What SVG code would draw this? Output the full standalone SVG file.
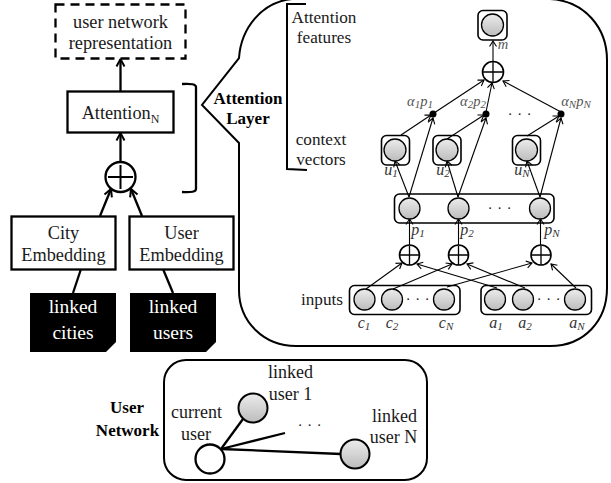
<svg xmlns="http://www.w3.org/2000/svg" width="611" height="483" viewBox="0 0 611 483">
<style>
text{font-family:"Liberation Serif","Times New Roman",serif;fill:#1a1a1a;text-anchor:middle}
.t{font-size:18.300px}
.b{font-size:17px;font-weight:bold;fill:#000}
.s{font-size:17.200px}
.n{font-size:18px}
.d{font-size:15px;letter-spacing:1px}
.i{font-size:16px;font-style:italic;fill:#333}
.j{font-size:14.500px;font-style:italic;fill:#555}
.u{font-size:11px}
.w{fill:#fff;font-size:19.500px}
.box{fill:#fff;stroke:#000;stroke-width:2.300}
.thin{fill:none;stroke:#000;stroke-width:2}
.nd{fill:url(#g);stroke:#000;stroke-width:1.300}
.pl{fill:#fff;stroke:#000;stroke-width:1.600}
.cross{stroke:#000;stroke-width:1.300;fill:none}
.thick{stroke:#000;stroke-width:2.300;fill:none}
.a{stroke:#000;stroke-width:1.100;fill:none;marker-end:url(#ah)}
.A{stroke:#000;stroke-width:2.300;fill:none;marker-end:url(#AH)}
</style>
<defs>
<linearGradient id="g" x1="0" y1="0" x2="0" y2="1"><stop offset="0" stop-color="#ececec"/><stop offset="1" stop-color="#bcbcbc"/></linearGradient>
<marker id="ah" markerUnits="userSpaceOnUse" markerWidth="10" markerHeight="10" refX="8" refY="5" orient="auto"><path d="M2.500,1.500 L8,5 L2.500,8.500" fill="none" stroke="#000" stroke-width="1.100"/></marker>
<marker id="AH" markerUnits="userSpaceOnUse" markerWidth="14" markerHeight="14" refX="11" refY="7" orient="auto"><path d="M3.500,3 L11,7 L3.500,11" fill="none" stroke="#000" stroke-width="2"/></marker>
</defs>
<rect width="611" height="483" fill="#fff"/>

<g id="attention-layer-callout">
<path d="M239,58 C241,28 262,2 292,-1 L550,-1 C585,1 607,28 607,60 L607,288 C607,320 585,346 550,346 L296,346 C264,346 239,322 239,290 L239,143 L202,105 L239,58 Z" fill="#fff" stroke="#000" stroke-width="2"/>
<path d="M306,4 L287,4 L287,169 L307,170" class="thin"/>
<text class="b" x="248" y="104">Attention</text>
<text class="b" x="248" y="124">Layer</text>
<text class="s" x="324" y="23">Attention</text>
<text class="s" x="324" y="43">features</text>
<text class="s" x="321" y="145">context</text>
<text class="s" x="321" y="165">vectors</text>
<text class="s" x="322" y="305">inputs</text>
</g>

<g id="connectors">
<path class="A" d="M120.500,91 L120.500,59"/>
<path class="A" d="M120.500,162 L120.500,133"/>
<path class="A" d="M100,216 L111,189"/>
<path class="A" d="M142,216 L131,189"/>
<path class="thick" d="M81,269 L73,293"/>
<path class="thick" d="M163,269 L173,293"/>
<path class="a" d="M493,61 L493,41"/>
<path class="a" d="M434,113 L484,80"/>
<path class="a" d="M486,112 L492,83"/>
<path class="a" d="M561,112 L503,81"/>
<path class="a" d="M401,135 L431,115"/>
<path class="a" d="M447,139 L484,115"/>
<path class="a" d="M527,136 L559,116"/>
<path class="a" d="M409,197 L395,161"/>
<path class="a" d="M409,197 L433,118"/>
<path class="a" d="M458,197 L447,161"/>
<path class="a" d="M458,197 L486,118"/>
<path class="a" d="M540,197 L527,161"/>
<path class="a" d="M540,197 L561,118"/>
<path class="a" d="M409.500,245 L409.500,219"/>
<path class="a" d="M458.500,245 L458.500,219"/>
<path class="a" d="M540.500,245 L540.500,219"/>
<path class="a" d="M366,289 L402,263"/>
<path class="a" d="M393,289 L452,264"/>
<path class="a" d="M447,287 L532,263"/>
<path class="a" d="M497,288 L417,264"/>
<path class="a" d="M525,288 L467,264"/>
<path class="a" d="M576,288 L551,264"/>
<path class="thick" d="M221,449 L243,419"/>
<path class="thick" d="M221,449 L285,433"/>
<path class="thick" d="M221,449 L341,454"/>
</g>

<g id="user-network-representation">
<rect x="55.500" y="4.500" width="130" height="54" fill="#fff" stroke="#000" stroke-width="2.300" stroke-dasharray="9 6"/>
<text class="t" x="120.500" y="28">user network</text>
<text class="t" x="120.500" y="49">representation</text>
</g>
<g id="attention-n">
<rect class="box" x="67.500" y="91.500" width="106" height="41"/>
<text class="t" x="120.500" y="119">Attention<tspan font-size="12" dy="4">N</tspan></text>
</g>
<g id="left-plus">
<circle cx="120.500" cy="177" r="15" fill="#fff" stroke="#000" stroke-width="2.300"/>
<path d="M108,177 H133 M120.500,165 V189" fill="none" stroke="#000" stroke-width="2"/>
</g>
<path id="attention-bracket" class="thick" d="M182,84 Q196,83 196,87 L196,189 Q196,193 182,192"/>
<g id="city-embedding">
<rect class="box" x="11.500" y="216.500" width="104" height="53"/>
<text class="t" x="63.500" y="239">City</text>
<text class="t" x="63.500" y="261">Embedding</text>
</g>
<g id="user-embedding">
<rect class="box" x="129.500" y="216.500" width="104" height="53"/>
<text class="t" x="181.500" y="239">User</text>
<text class="t" x="181.500" y="261">Embedding</text>
</g>
<g id="linked-cities">
<path d="M30,293 H116 V342 L106,352 H30 Z" fill="#000"/>
<text class="w" x="73" y="313">linked</text>
<text class="w" x="73" y="339">cities</text>
</g>
<g id="linked-users">
<path d="M130,293 H216 V342 L206,352 H130 Z" fill="#000"/>
<text class="w" x="173" y="313">linked</text>
<text class="w" x="173" y="339">users</text>
</g>

<g id="node-m">
<rect x="478" y="10.500" width="29" height="29.500" rx="5" fill="#fff" stroke="#000" stroke-width="1.600"/>
<circle class="nd" cx="492.500" cy="25" r="11"/>
<text class="j" x="503" y="49">m</text>
</g>
<g id="plus-top">
<circle class="pl" cx="493" cy="72" r="10.500"/>
<path class="cross" d="M483,72 H503 M493,62 V82"/>
</g>
<g id="dots">
<circle cx="433" cy="114" r="3.500"/><circle cx="486" cy="114" r="3.500"/><circle cx="561" cy="114" r="3.500"/>
<text class="j" x="420" y="106">α<tspan class="u" dy="2">1</tspan><tspan dy="-2">p</tspan><tspan class="u" dy="2">1</tspan></text>
<text class="j" x="473" y="106">α<tspan class="u" dy="2">2</tspan><tspan dy="-2">p</tspan><tspan class="u" dy="2">2</tspan></text>
<text class="j" x="576" y="106">α<tspan class="u" dy="2">N</tspan><tspan dy="-2">p</tspan><tspan class="u" dy="2">N</tspan></text>
<text class="d" x="520" y="115">. . .</text>
</g>
<g id="node-u1">
<rect x="381.500" y="135.500" width="28" height="29.500" rx="5" fill="none" stroke="#000" stroke-width="1.600"/>
<circle class="nd" cx="395" cy="150" r="11"/>
<text class="i" x="391" y="175">u<tspan class="u" dy="2">1</tspan></text>
</g>
<g id="node-u2">
<rect x="433" y="135.500" width="28" height="29.500" rx="5" fill="none" stroke="#000" stroke-width="1.600"/>
<circle class="nd" cx="447" cy="150" r="11"/>
<text class="i" x="443" y="175">u<tspan class="u" dy="2">2</tspan></text>
</g>
<g id="node-uN">
<rect x="512.500" y="135.500" width="28" height="29.500" rx="5" fill="none" stroke="#000" stroke-width="1.600"/>
<circle class="nd" cx="526.500" cy="150" r="11"/>
<text class="i" x="522" y="175">u<tspan class="u" dy="2">N</tspan></text>
</g>
<g id="hidden-layer">
<rect x="394.500" y="194" width="159.500" height="29" rx="5" fill="none" stroke="#000" stroke-width="1.600"/>
<circle class="nd" cx="409.500" cy="208.500" r="10.500"/>
<circle class="nd" cx="458.500" cy="208.500" r="10.500"/>
<circle class="nd" cx="540" cy="208.500" r="10.500"/>
<text class="d" x="500" y="209">. . .</text>
<text class="i" x="418" y="235">p<tspan class="u" dy="2">1</tspan></text>
<text class="i" x="467" y="235">p<tspan class="u" dy="2">2</tspan></text>
<text class="i" x="552" y="235">p<tspan class="u" dy="2">N</tspan></text>
</g>
<g id="plus-row">
<circle class="pl" cx="409.500" cy="255" r="10"/><path class="cross" d="M400,255 H419 M409.500,246 V265"/>
<circle class="pl" cx="458.500" cy="255" r="10"/><path class="cross" d="M449,255 H468 M458.500,246 V265"/>
<circle class="pl" cx="541" cy="255" r="10"/><path class="cross" d="M531,255 H551 M541,246 V265"/>
</g>
<g id="inputs-c">
<rect x="349.500" y="285.500" width="110.500" height="29" rx="5" fill="none" stroke="#000" stroke-width="1.600"/>
<circle class="nd" cx="364.500" cy="299.500" r="10.500"/>
<circle class="nd" cx="392" cy="299.500" r="10.500"/>
<circle class="nd" cx="444" cy="299.500" r="10.500"/>
<text class="d" x="418" y="300">. . .</text>
<text class="i" x="364" y="328">c<tspan class="u" dy="2">1</tspan></text>
<text class="i" x="392" y="328">c<tspan class="u" dy="2">2</tspan></text>
<text class="i" x="446" y="328">c<tspan class="u" dy="2">N</tspan></text>
</g>
<g id="inputs-a">
<rect x="481" y="285.500" width="110.500" height="29" rx="5" fill="none" stroke="#000" stroke-width="1.600"/>
<circle class="nd" cx="495" cy="299.500" r="10.500"/>
<circle class="nd" cx="523" cy="299.500" r="10.500"/>
<circle class="nd" cx="575" cy="299.500" r="10.500"/>
<text class="d" x="549" y="300">. . .</text>
<text class="i" x="496" y="328">a<tspan class="u" dy="2">1</tspan></text>
<text class="i" x="525" y="328">a<tspan class="u" dy="2">2</tspan></text>
<text class="i" x="577" y="328">a<tspan class="u" dy="2">N</tspan></text>
</g>

<g id="user-network">
<rect x="164" y="360" width="263" height="120" rx="22" fill="none" stroke="#000" stroke-width="2"/>
<text class="b" x="127" y="413">User</text>
<text class="b" x="127.500" y="436">Network</text>
<text class="n" x="290.500" y="378">linked</text>
<text class="n" x="290.500" y="400">user 1</text>
<text class="n" x="196.500" y="418">current</text>
<text class="n" x="196" y="440">user</text>
<text class="n" x="394.500" y="422">linked</text>
<text class="n" x="393.500" y="443">user N</text>
<text class="d" x="310" y="426">. . .</text>
</g>
<g id="linked-user-1"><circle class="nd" cx="253" cy="408" r="14.500" style="stroke-width:2"/></g>
<g id="linked-user-N"><circle class="nd" cx="355" cy="454" r="14.500" style="stroke-width:2"/></g>
<g id="current-user"><circle cx="210" cy="459" r="14.500" fill="#fff" stroke="#000" stroke-width="2.300"/></g>
</svg>
